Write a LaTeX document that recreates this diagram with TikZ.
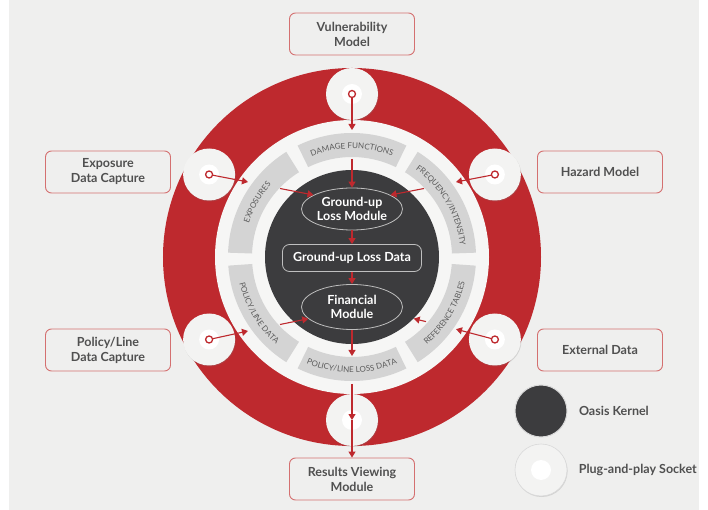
\documentclass[tikz,border=0pt]{standalone}
\usepackage{fontspec}
\setmainfont{Lato}
\usetikzlibrary{shapes.geometric,shadows,decorations.text,arrows.meta,positioning}

\definecolor{oasisred}{RGB}{190,41,46}
\definecolor{kernelgrey}{RGB}{60,60,62}
\definecolor{bandgrey}{RGB}{212,212,212}
\definecolor{bandtext}{RGB}{92,92,92}
\definecolor{boxline}{RGB}{212,112,112}
\definecolor{boxtext}{RGB}{80,80,80}
\definecolor{bggrey}{RGB}{239,239,238}
\definecolor{ringwhite}{RGB}{246,246,245}
\definecolor{socketgrey}{RGB}{243,243,242}

\newcommand\bandfont{\fontsize{8}{9}\selectfont}

\tikzset{
  outbox/.style={draw=boxline, line width=0.9pt, rounded corners=6pt, fill=bggrey,
    minimum width=125pt, minimum height=42pt, align=center, text=boxtext,
    font=\fontsize{12.5}{15}\selectfont\bfseries},
  socket/.style={circle, fill=socketgrey, minimum size=52pt, inner sep=0pt,
    drop shadow={opacity=0.25, shadow xshift=0.6pt, shadow yshift=-1pt}},
  hole/.style={circle, fill=white, minimum size=20pt, inner sep=0pt},
  ring/.style={circle, draw=oasisred, fill=white, line width=1.3pt, minimum size=7pt, inner sep=0pt},
  flow/.style={draw=oasisred, line width=1.1pt, -{Triangle[length=6pt,width=7pt]}},
  kmod/.style={ellipse, draw=white!75!black, line width=0.8pt, minimum width=101pt,
    minimum height=42pt, inner sep=0pt, align=center, text=white,
    font=\fontsize{12.5}{14}\selectfont\bfseries},
  kdata/.style={rectangle, rounded corners=7pt, draw=white!75!black, line width=0.8pt,
    minimum width=139pt, minimum height=27pt, text=white,
    font=\fontsize{12.5}{14}\selectfont\bfseries},
  legtext/.style={text=boxtext, font=\fontsize{12.5}{15}\selectfont\bfseries},
  bandlabel/.style={decorate, decoration={text along path, text align=center,
    text color=bandtext, text={|\bandfont|#1}}},
}

\begin{document}
\begin{tikzpicture}[x=1pt, y=1pt]
  \useasboundingbox (-352,-253) rectangle (356,257);
  \fill[white] (-352,-253) rectangle (356,257);
  \fill[bggrey] (-343,-253) rectangle (347,257);

  \fill[oasisred] (0,0) circle[radius=189pt];
  \fill[ringwhite] (0,0) circle[radius=137pt];

  \foreach \a/\b in {2/58, 64/116, 122/178, 184/238, 244/296, 302/356}
    \fill[bandgrey] (\a:100pt) arc[start angle=\a, end angle=\b, radius=100pt]
      -- (\b:124pt) arc[start angle=\b, end angle=\a, radius=124pt] -- cycle;

  \path[bandlabel=FREQUENCY/INTENSITY] (59:108.5pt) arc[start angle=59, end angle=1, radius=108.5pt];
  \path[bandlabel=DAMAGE FUNCTIONS] (116:108.5pt) arc[start angle=116, end angle=64, radius=108.5pt];
  \path[bandlabel=EXPOSURES] (178:108.5pt) arc[start angle=178, end angle=122, radius=108.5pt];
  \path[bandlabel=POLICY/LINE DATA] (184:115.5pt) arc[start angle=184, end angle=238, radius=115.5pt];
  \path[bandlabel=POLICY/LINE LOSS DATA] (243:115.5pt) arc[start angle=243, end angle=297, radius=115.5pt];
  \path[bandlabel=REFERENCE TABLES] (302:115.5pt) arc[start angle=302, end angle=356, radius=115.5pt];

  \node[circle, fill=kernelgrey, minimum size=174pt, inner sep=0pt] (kernel) at (0,0) {};
  \node[kmod] (gul) at (0,48) {Ground-up\\Loss Module};
  \node[kdata] (gud) at (0,-1) {Ground-up Loss Data};
  \node[kmod, minimum height=45pt] (fin) at (0,-50) {Financial\\Module};

  \node[socket] (sVul) at (90:163pt) {};
  \node[socket] (sHaz) at (30:165pt) {};
  \node[socket] (sExp) at (150:165pt) {};
  \node[socket] (sPol) at (210:165pt) {};
  \node[socket] (sExt) at (330:165pt) {};
  \node[socket] (sRes) at (270:163pt) {};
  \foreach \s in {sVul, sHaz, sExp, sPol, sExt, sRes}
    \node[hole] at (\s) {};
  \node[ring] (ringVul) at (sVul) {};
  \node[ring] (ringHaz) at (sHaz) {};
  \node[ring] (ringExp) at (sExp) {};
  \node[ring] (ringPol) at (sPol) {};
  \node[ring] (ringExt) at (sExt) {};

  \node[outbox] (vul) at (0,223) {Vulnerability\\Model};
  \node[outbox] (exp) at (-244,85) {Exposure\\Data Capture};
  \node[outbox] (haz) at (248,85) {Hazard Model};
  \node[outbox] (pol) at (-244,-93) {Policy/Line\\Data Capture};
  \node[outbox] (ext) at (248,-93) {External Data};
  \node[outbox] (res) at (0,-222) {Results Viewing\\Module};

  \coordinate (dmgOut) at (0,127);
  \coordinate (dmgIn) at (0,98);
  \coordinate (expOut) at (-104,75);
  \coordinate (expIn) at (-72,68.5);
  \coordinate (hazOut) at (104,75);
  \coordinate (hazIn) at (72,68.5);
  \coordinate (polOut) at (-104,-74);
  \coordinate (polIn) at (-72,-67.5);
  \coordinate (extOut) at (104,-72.2);
  \coordinate (extIn) at (74,-64.6);
  \coordinate (lossIn) at (0,-99);
  \coordinate (lossOut) at (0,-127);

  \draw[flow] (ringVul) -- (dmgOut);
  \draw[flow] (dmgIn) -- (gul);
  \draw[flow] (ringExp) -- (expOut);
  \draw[flow] (expIn) -- (gul.160);
  \draw[flow] (ringHaz) -- (hazOut);
  \draw[flow] (hazIn) -- (gul.20);
  \draw[flow] (ringPol) -- (polOut);
  \draw[flow] (polIn) -- (fin.195);
  \draw[flow] (ringExt) -- (extOut);
  \draw[flow] (extIn) -- (kernel.315);
  \draw[flow] (gul) -- (gud);
  \draw[flow] (gud) -- (fin);
  \draw[flow] (fin) -- (lossIn);
  \draw[flow] (lossOut) -- (sRes.center);
  \draw[flow] (sRes.center) -- (res);

  \node[circle, fill=kernelgrey, draw=white!85!black, line width=1pt, minimum size=52pt] (legK) at (189,-154) {};
  \node[legtext, right=8pt of legK] (legKtxt) {Oasis Kernel};
  \node[socket, draw=white!85!black, line width=0.6pt] (legS) at (189,-213) {};
  \node[hole] (legShole) at (legS) {};
  \node[legtext, right=8pt of legS] (legStxt) {Plug-and-play Socket};
\end{tikzpicture}
\end{document}
